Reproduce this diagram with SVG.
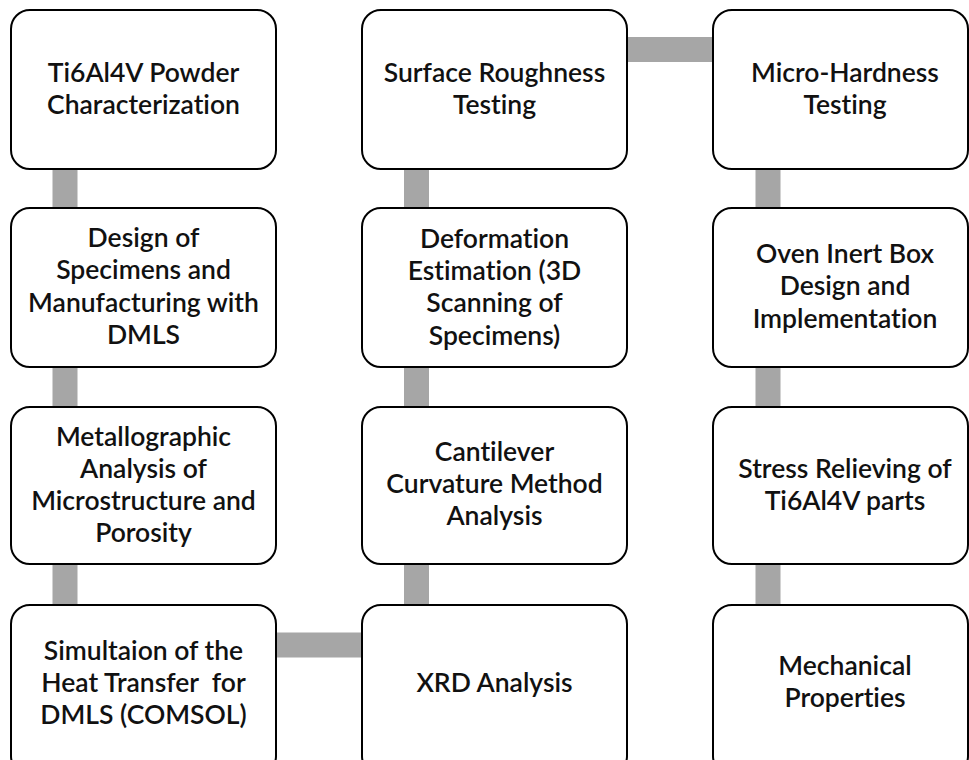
<svg xmlns="http://www.w3.org/2000/svg" width="969" height="760" viewBox="0 0 969 760">
  <style>
    .box { fill: #ffffff; stroke: #000000; stroke-width: 2; }
    .link { stroke: #a6a6a6; stroke-width: 25; fill: none; }
    .label { font-family: "Lato", "Liberation Sans", sans-serif; font-size: 26.5px; font-weight: 600; fill: #111111; text-anchor: middle; font-variant-ligatures: none; white-space: pre; }
  </style>
  <rect width="969" height="760" fill="#ffffff"/>

  <!-- connectors (drawn beneath the boxes) -->
  <g id="connectors">
    <line class="link" x1="65" y1="160" x2="65" y2="615"/>
    <line class="link" x1="416.5" y1="160" x2="416.5" y2="615"/>
    <line class="link" x1="768" y1="160" x2="768" y2="615"/>
    <line class="link" x1="620" y1="49.5" x2="720" y2="49.5"/>
    <line class="link" x1="270" y1="645" x2="370" y2="645"/>
  </g>

  <!-- column 1 -->
  <g id="powder">
    <rect class="box" x="11" y="10" width="265" height="159" rx="19"/>
    <text class="label"><tspan x="143.5" y="82">Ti6Al4V Powder</tspan><tspan x="143.5" y="114">Characterization</tspan></text>
  </g>
  <g id="design">
    <rect class="box" x="11" y="208" width="265" height="159" rx="19"/>
    <text class="label"><tspan x="143.5" y="247">Design of</tspan><tspan x="143.5" y="279">Specimens and</tspan><tspan x="143.5" y="312">Manufacturing with</tspan><tspan x="143.5" y="344">DMLS</tspan></text>
  </g>
  <g id="metallographic">
    <rect class="box" x="11" y="407" width="265" height="157" rx="19"/>
    <text class="label"><tspan x="143.5" y="446">Metallographic</tspan><tspan x="143.5" y="478">Analysis of</tspan><tspan x="143.5" y="510">Microstructure and</tspan><tspan x="143.5" y="542">Porosity</tspan></text>
  </g>
  <g id="simulation">
    <rect class="box" x="11" y="605" width="265" height="170" rx="19"/>
    <text class="label"><tspan x="143.5" y="660">Simultaion of the</tspan><tspan x="143.5" y="692">Heat Transfer  for</tspan><tspan x="143.5" y="724">DMLS (COMSOL)</tspan></text>
  </g>

  <!-- column 2 -->
  <g id="roughness">
    <rect class="box" x="362" y="10" width="265" height="159" rx="19"/>
    <text class="label"><tspan x="494.5" y="82">Surface Roughness</tspan><tspan x="494.5" y="114">Testing</tspan></text>
  </g>
  <g id="deformation">
    <rect class="box" x="362" y="208" width="265" height="159" rx="19"/>
    <text class="label"><tspan x="494.5" y="248">Deformation</tspan><tspan x="494.5" y="280">Estimation (3D</tspan><tspan x="494.5" y="312">Scanning of</tspan><tspan x="494.5" y="345">Specimens)</tspan></text>
  </g>
  <g id="cantilever">
    <rect class="box" x="362" y="407" width="265" height="157" rx="19"/>
    <text class="label"><tspan x="494.5" y="461">Cantilever</tspan><tspan x="494.5" y="493">Curvature Method</tspan><tspan x="494.5" y="525">Analysis</tspan></text>
  </g>
  <g id="xrd">
    <rect class="box" x="362" y="605" width="265" height="170" rx="19"/>
    <text class="label"><tspan x="494.5" y="692">XRD Analysis</tspan></text>
  </g>

  <!-- column 3 -->
  <g id="hardness">
    <rect class="box" x="713" y="10" width="255" height="159" rx="19"/>
    <text class="label"><tspan x="845" y="82">Micro-Hardness</tspan><tspan x="845" y="114">Testing</tspan></text>
  </g>
  <g id="oven">
    <rect class="box" x="713" y="208" width="255" height="159" rx="19"/>
    <text class="label"><tspan x="845" y="263">Oven Inert Box</tspan><tspan x="845" y="295">Design and</tspan><tspan x="845" y="328">Implementation</tspan></text>
  </g>
  <g id="stress">
    <rect class="box" x="713" y="407" width="255" height="157" rx="19"/>
    <text class="label"><tspan x="845" y="478">Stress Relieving of</tspan><tspan x="845" y="510">Ti6Al4V parts</tspan></text>
  </g>
  <g id="mechanical">
    <rect class="box" x="713" y="605" width="255" height="170" rx="19"/>
    <text class="label"><tspan x="845" y="675">Mechanical</tspan><tspan x="845" y="707">Properties</tspan></text>
  </g>
</svg>
